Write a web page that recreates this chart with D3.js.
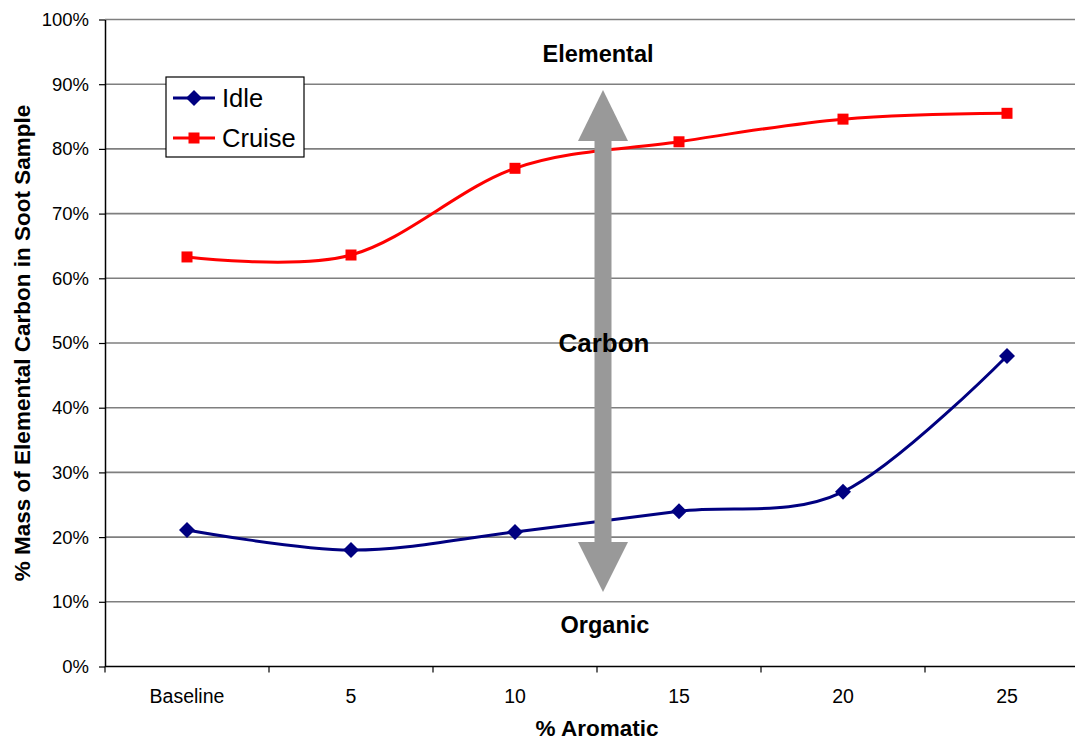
<!DOCTYPE html>
<html>
<head>
<meta charset="utf-8">
<script src="https://cdn.jsdelivr.net/npm/d3@7"></script>
<style>
  html, body { margin: 0; padding: 0; background: #fff; }
  svg { display: block; font-family: Arial, "Liberation Sans", sans-serif; }
</style>
</head>
<body>
<svg id="chart" width="1075" height="742"></svg>
<script>
// Aromatic content levels (x categories)
const categories = ["Baseline", "5", "10", "15", "20", "25"];
// % mass of elemental carbon in soot sample
const idleValues = [21.1, 18.0, 20.8, 24.0, 27.0, 48.0];
const cruiseValues = [63.3, 63.6, 77.0, 81.1, 84.6, 85.5];
const yTicks = [0, 10, 20, 30, 40, 50, 60, 70, 80, 90, 100];

const svg = d3.select("#chart");
const margin = { left: 105, top: 19.5, right: -14, bottom: 75.5 };
const width = 1075 - margin.left - margin.right;
const height = 742 - margin.top - margin.bottom;

const g = svg.append("g").attr("transform", `translate(${margin.left},${margin.top})`);

const x = d3.scaleBand().domain(categories).range([0, width]);
const y = d3.scaleLinear().domain([0, 100]).range([height, 0]);
const cx = c => x(c) + x.bandwidth() / 2;

// horizontal gridlines
g.append("g").selectAll("line").data(yTicks.filter(t => t > 0)).join("line")
  .attr("x1", 0).attr("x2", width)
  .attr("y1", d => y(d)).attr("y2", d => y(d))
  .attr("stroke", "#7f7f7f").attr("stroke-width", 1.6);

// y axis
const yAxis = g.append("g")
  .call(d3.axisLeft(y).tickValues(yTicks).tickFormat(d => d + "%").tickSize(6).tickSizeOuter(0));
yAxis.select(".domain").attr("stroke", "#000").attr("stroke-width", 1.5);
yAxis.selectAll(".tick line").attr("stroke", "#000").attr("stroke-width", 1.2);
yAxis.selectAll(".tick text").attr("font-size", 18.5).attr("fill", "#000")
  .attr("font-family", "Arial, 'Liberation Sans', sans-serif").attr("x", -16);

// x axis: ticks on band boundaries, labels centred in bands
const xAxisG = g.append("g").attr("transform", `translate(0,${height})`);
xAxisG.append("line").attr("x1", 0).attr("x2", width).attr("stroke", "#000").attr("stroke-width", 1.5);
const boundaries = categories.map(c => x(c)).concat([width]);
xAxisG.selectAll("line.tk").data(boundaries).join("line").attr("class", "tk")
  .attr("x1", d => d).attr("x2", d => d).attr("y1", 0).attr("y2", 6)
  .attr("stroke", "#000").attr("stroke-width", 1.2);
xAxisG.selectAll("text").data(categories).join("text")
  .attr("x", d => cx(d)).attr("y", 36.5)
  .attr("text-anchor", "middle").attr("font-size", 19.5).attr("fill", "#000")
  .text(d => d);

// axis titles
svg.append("text").attr("x", 597).attr("y", 736)
  .attr("text-anchor", "middle").attr("font-size", 22.5).attr("font-weight", "bold")
  .text("% Aromatic");
svg.append("text")
  .attr("transform", "translate(30,343) rotate(-90)")
  .attr("text-anchor", "middle").attr("font-size", 22.5).attr("font-weight", "bold")
  .text("% Mass of Elemental Carbon in Soot Sample");

// double-headed arrow between Organic and Elemental
const ax = 603;
const arrow = svg.append("g").attr("fill", "#999999");
arrow.append("rect").attr("x", ax - 8.5).attr("y", 138).attr("width", 17).attr("height", 407);
arrow.append("path").attr("d", `M${ax},90 L${ax + 25},141 L${ax - 25},141 Z`);
arrow.append("path").attr("d", `M${ax},592 L${ax + 25},542 L${ax - 25},542 Z`);

svg.append("text").attr("x", 598).attr("y", 62).attr("text-anchor", "middle")
  .attr("font-size", 23.5).attr("font-weight", "bold").text("Elemental");
svg.append("text").attr("x", 604).attr("y", 352).attr("text-anchor", "middle")
  .attr("font-size", 26).attr("font-weight", "bold").text("Carbon");
svg.append("text").attr("x", 605).attr("y", 633).attr("text-anchor", "middle")
  .attr("font-size", 23.5).attr("font-weight", "bold").text("Organic");

// series
const line = d3.line().x((d, i) => cx(categories[i])).y(d => y(d))
  .curve(d3.curveCardinal.tension(0));

const series = [
  { name: "Idle", values: idleValues, color: "#000080", marker: "diamond" },
  { name: "Cruise", values: cruiseValues, color: "#ff0000", marker: "square" }
];

function drawMarker(sel, type, color) {
  if (type === "diamond") {
    sel.append("path").attr("d", "M0,-8 L8,0 L0,8 L-8,0 Z").attr("fill", color);
  } else {
    sel.append("rect").attr("x", -5.5).attr("y", -5.5).attr("width", 11).attr("height", 11).attr("fill", color);
  }
}

series.forEach(s => {
  g.append("path").datum(s.values).attr("d", line)
    .attr("fill", "none").attr("stroke", s.color).attr("stroke-width", 3);
  s.values.forEach((v, i) => {
    const m = g.append("g").attr("transform", `translate(${cx(categories[i])},${y(v)})`);
    drawMarker(m, s.marker, s.color);
  });
});

// legend
const lg = svg.append("g").attr("transform", "translate(166,77)");
lg.append("rect").attr("width", 138).attr("height", 80)
  .attr("fill", "#fff").attr("stroke", "#000").attr("stroke-width", 1.2);
series.forEach((s, i) => {
  const yy = 21 + i * 40;
  lg.append("line").attr("x1", 7).attr("x2", 49).attr("y1", yy).attr("y2", yy)
    .attr("stroke", s.color).attr("stroke-width", 3);
  const m = lg.append("g").attr("transform", `translate(28,${yy})`);
  drawMarker(m, s.marker, s.color);
  lg.append("text").attr("x", 56).attr("y", yy + 9).attr("font-size", 25.5).text(s.name);
});
</script>
</body>
</html>
